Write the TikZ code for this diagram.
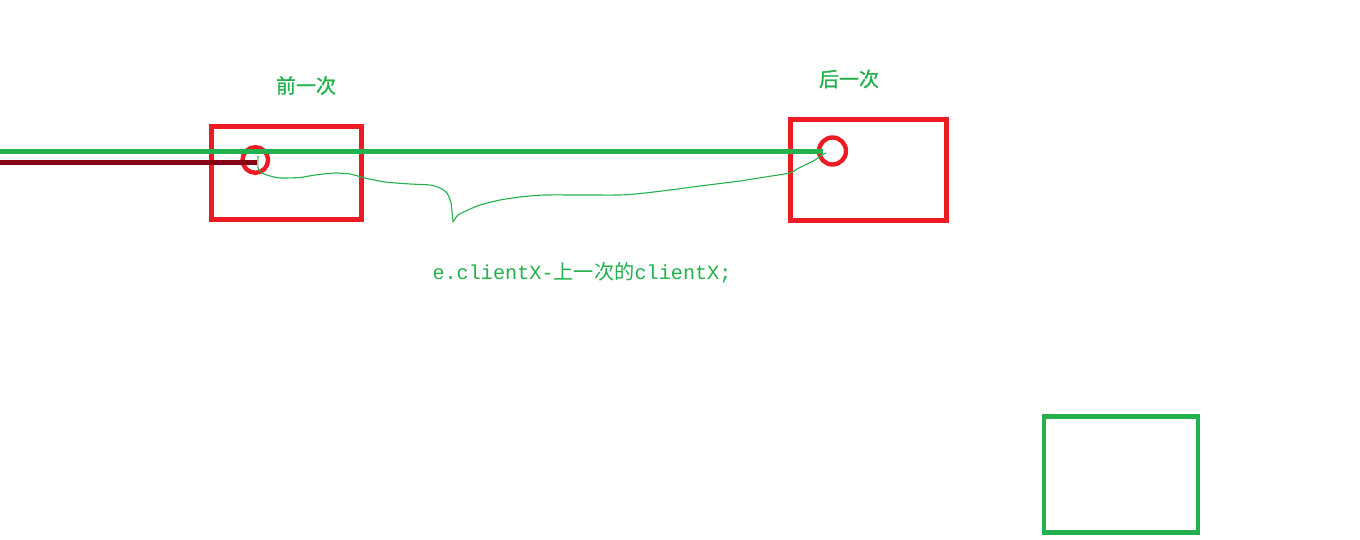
\documentclass[tikz,border=0pt]{standalone}
\usepackage{fontspec}
\setmonofont{Liberation Mono}
\newfontfamily\cjk{Noto Sans CJK SC}
\newfontfamily\cjkbold[FakeBold=1.2]{Noto Sans CJK SC}
\definecolor{paintgreen}{RGB}{34,177,76}
\definecolor{paintred}{RGB}{237,28,36}
\definecolor{paintdark}{RGB}{136,0,21}

\begin{document}
\begin{tikzpicture}[
    x=1pt,
    y=-1pt,
    frame/.style={
        draw=paintred,
        line width=4.6pt,
        inner sep=0pt
    },
    spot/.style={
        circle,
        draw=paintred,
        line width=4.4pt,
        inner sep=0pt
    },
    goalframe/.style={
        draw=paintgreen,
        line width=4.6pt,
        inner sep=0pt
    },
    title/.style={
        text=paintgreen,
        inner sep=0pt,
        font=\cjkbold\fontsize{20}{24}\selectfont
    },
    note/.style={
        text=paintgreen,
        inner sep=0pt,
        font=\ttfamily\fontsize{20.2}{24}\selectfont
    },
    track/.style={line width=4.6pt},
    trace/.style={draw=paintgreen, line width=1.1pt, line join=round}
]
\useasboundingbox[fill=white] (0,0) rectangle (1360,540);

\node[frame, minimum width=150pt, minimum height=93pt] (prev) at (286.5,173) {};
\node[frame, minimum width=156pt, minimum height=101pt] (next) at (868.5,170) {};
\node[goalframe, minimum width=154pt, minimum height=116pt] (target) at (1121,474.5) {};

\node[spot, minimum size=25.6pt] (c1) at (255.3,160) {};
\node[spot, minimum size=27pt] (c2) at (832.5,151) {};

\node[title] (prevlabel) at (306,85.5) {前一次};
\node[title] (nextlabel) at (849,79) {后一次};
\node[note] (formula) at (582,273) {e.clientX-{\cjk 上一次的}clientX;};

\coordinate (gstart) at (0,151.5);
\coordinate (rstart) at (0,162.3);

\draw[track, paintgreen, shorten >=9.5pt] (gstart) -- (gstart -| c2.center);
\draw[track, paintdark, shorten >=-1.4pt] (rstart) -- (rstart -| c1.center);

\draw[trace] plot[smooth, tension=0.35] coordinates {
    (258,156) (258,168) (262,173) (270,176) (280,178) (300,177.5) (315,175)
    (335,173) (350,174) (365,178) (385,182) (410,184) (430,185) (440,188)
    (447,193) (451,203) (453,222)};
\draw[trace] plot[smooth, tension=0.35] coordinates {
    (453,222) (458,215) (468,210) (480,205) (500,200) (520,197) (545,195)
    (620,195) (645,193) (670,190) (700,186) (740,181) (765,177) (790,173)
    (797,169) (805,165) (815,160) (822,155) (826,153)};

\end{tikzpicture}
\end{document}
